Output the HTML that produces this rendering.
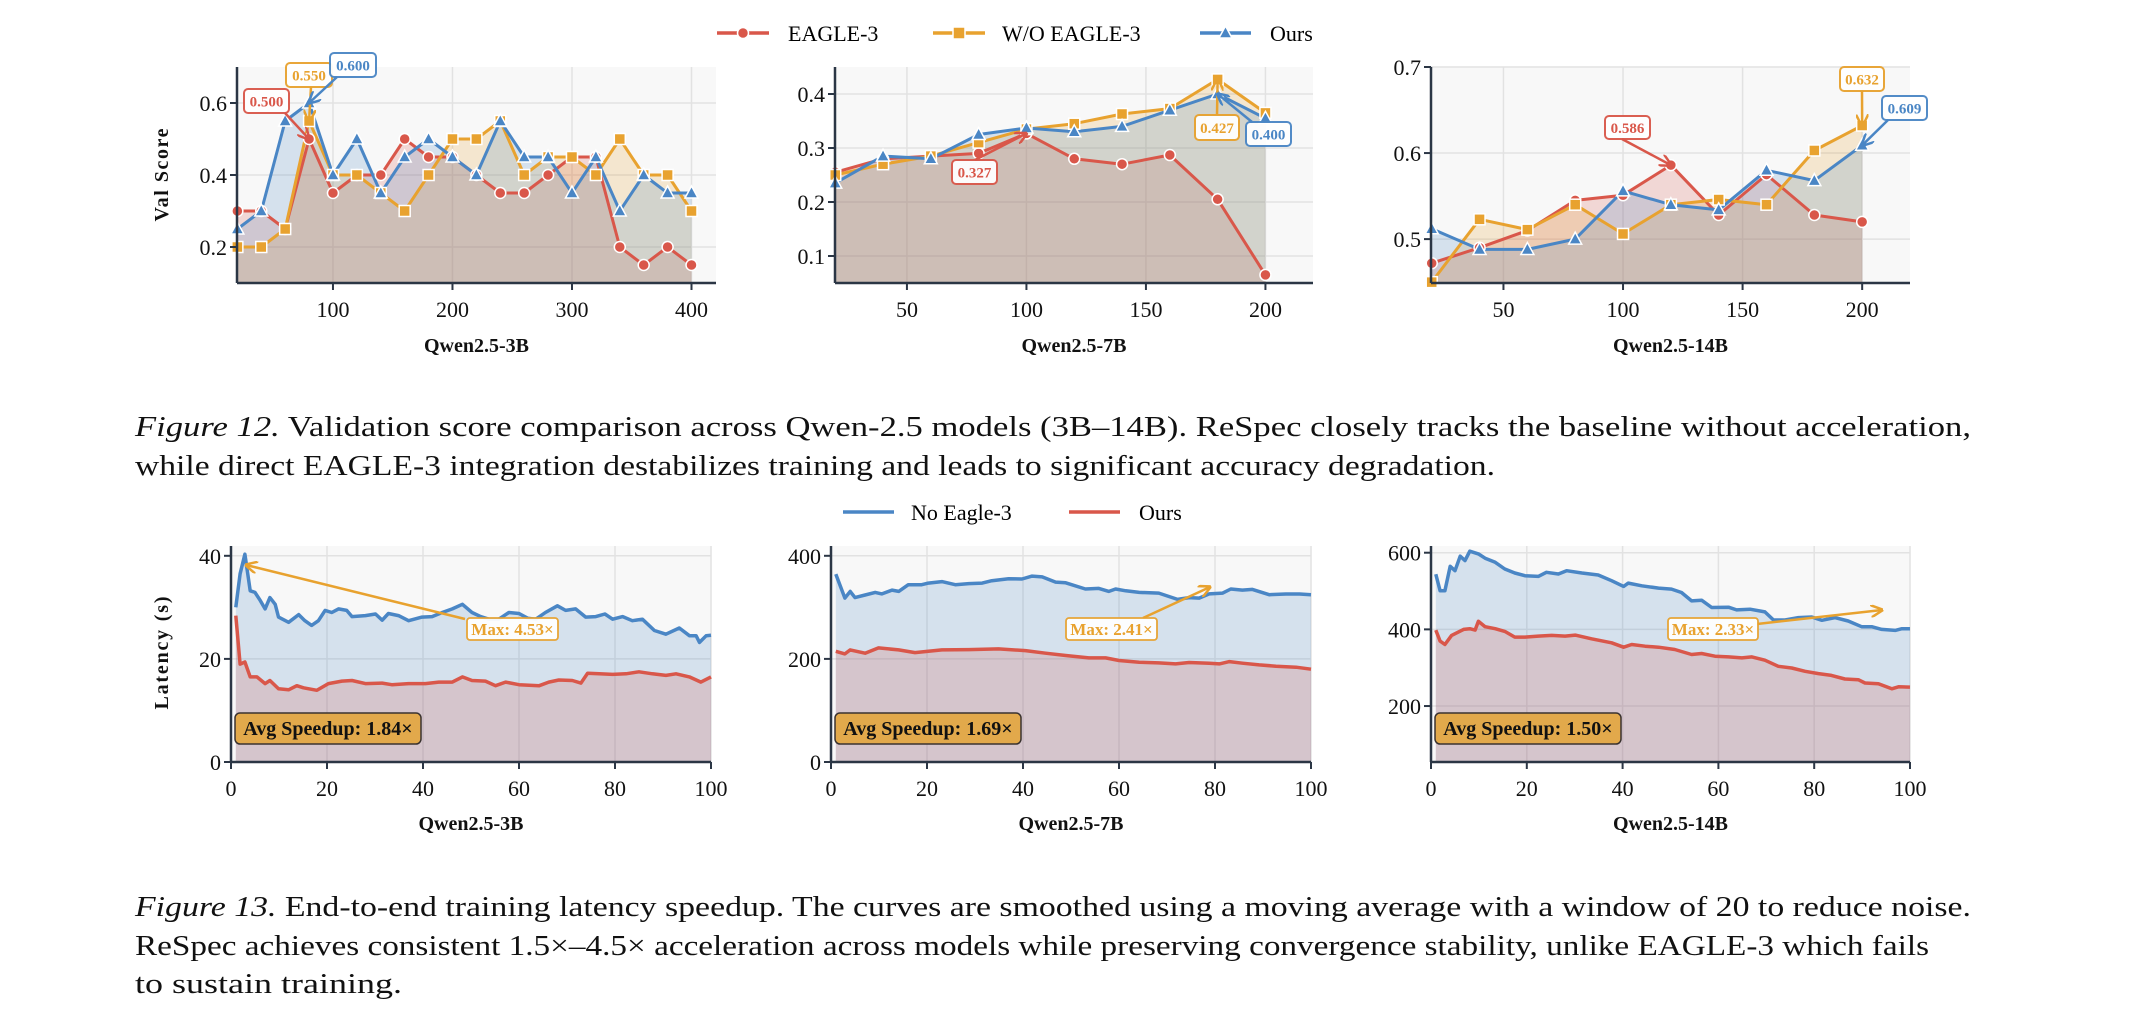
<!DOCTYPE html>
<html><head><meta charset="utf-8"><style>
html,body{margin:0;padding:0;background:#fff;}
svg{display:block;font-family:"Liberation Serif",serif;}
</style></head><body>
<svg id="fig" width="2152" height="1026" viewBox="0 0 2152 1026" xmlns="http://www.w3.org/2000/svg">
<defs>
<marker id="ahR" viewBox="0 0 10 10" refX="9" refY="5" markerWidth="5" markerHeight="5" orient="auto"><path d="M0,0L10,5L0,10" fill="none" stroke="#d9574a" stroke-width="2"/></marker>
<marker id="ahO" viewBox="0 0 10 10" refX="9" refY="5" markerWidth="5" markerHeight="5" orient="auto"><path d="M0,0L10,5L0,10" fill="none" stroke="#e8a22f" stroke-width="2"/></marker>
<marker id="ahB" viewBox="0 0 10 10" refX="9" refY="5" markerWidth="5" markerHeight="5" orient="auto"><path d="M0,0L10,5L0,10" fill="none" stroke="#4a86c5" stroke-width="2"/></marker>
</defs>
<g id="layer"></g>
<g font-size="22">
<line x1="717" y1="33" x2="769" y2="33" stroke="#d9574a" stroke-width="3.5"/><circle cx="743" cy="33" r="5.5" fill="#d9574a" stroke="#fff" stroke-width="1.5"/>
<text x="788" y="41">EAGLE-3</text>
<line x1="933" y1="33" x2="985" y2="33" stroke="#e8a22f" stroke-width="3.5"/><rect x="953" y="27" width="12" height="12" fill="#e8a22f" stroke="#fff" stroke-width="1.5"/>
<text x="1002" y="41">W/O EAGLE-3</text>
<line x1="1200" y1="33" x2="1251" y2="33" stroke="#4a86c5" stroke-width="3.5"/><path d="M1225.5,26L1232,38L1219,38Z" fill="#4a86c5" stroke="#fff" stroke-width="1.5"/>
<text x="1270" y="41">Ours</text>
</g>
<g font-size="22">
<line x1="843" y1="512" x2="894" y2="512" stroke="#4a86c5" stroke-width="3.5"/>
<text x="911" y="520">No Eagle-3</text>
<line x1="1069" y1="512" x2="1120" y2="512" stroke="#d9574a" stroke-width="3.5"/>
<text x="1139" y="520">Ours</text>
</g>
<g font-size="29" fill="#111">
<text x="135" y="436" textLength="1836" lengthAdjust="spacingAndGlyphs"><tspan font-style="italic">Figure 12.</tspan> Validation score comparison across Qwen-2.5 models (3B–14B). ReSpec closely tracks the baseline without acceleration,</text>
<text x="135" y="475" textLength="1360" lengthAdjust="spacingAndGlyphs">while direct EAGLE-3 integration destabilizes training and leads to significant accuracy degradation.</text>
</g>
<g font-size="29" fill="#111">
<text x="135" y="916" textLength="1836" lengthAdjust="spacingAndGlyphs"><tspan font-style="italic">Figure 13.</tspan> End-to-end training latency speedup. The curves are smoothed using a moving average with a window of 20 to reduce noise.</text>
<text x="135" y="955" textLength="1794" lengthAdjust="spacingAndGlyphs">ReSpec achieves consistent 1.5×–4.5× acceleration across models while preserving convergence stability, unlike EAGLE-3 which fails</text>
<text x="135" y="993" textLength="267" lengthAdjust="spacingAndGlyphs">to sustain training.</text>
</g>
</svg>
<script>
// ---- Validation score data ----
const steps3B=[20,40,60,80,100,120,140,160,180,200,220,240,260,280,300,320,340,360,380,400];
const eagle3B=[0.30,0.30,0.25,0.50,0.35,0.40,0.40,0.50,0.45,0.45,0.40,0.35,0.35,0.40,0.45,0.45,0.20,0.15,0.20,0.15];
const wo3B=[0.20,0.20,0.25,0.55,0.40,0.40,0.35,0.30,0.40,0.50,0.50,0.55,0.40,0.45,0.45,0.40,0.50,0.40,0.40,0.30];
const ours3B=[0.25,0.30,0.55,0.60,0.40,0.50,0.35,0.45,0.50,0.45,0.40,0.55,0.45,0.45,0.35,0.45,0.30,0.40,0.35,0.35];
const steps7B=[20,40,60,80,100,120,140,160,180,200];
const eagle7B=[0.255,0.28,0.285,0.29,0.327,0.28,0.27,0.287,0.205,0.065];
const wo7B=[0.25,0.27,0.285,0.31,0.335,0.345,0.363,0.373,0.427,0.365];
const ours7B=[0.235,0.285,0.28,0.325,0.337,0.33,0.34,0.37,0.40,0.355];
const steps14B=[20,40,60,80,100,120,140,160,180,200];
const eagle14B=[0.472,0.49,0.51,0.545,0.551,0.586,0.528,0.575,0.528,0.52];
const wo14B=[0.45,0.523,0.511,0.54,0.506,0.54,0.546,0.54,0.603,0.632];
const ours14B=[0.512,0.488,0.488,0.50,0.556,0.54,0.534,0.58,0.568,0.609];
const xTicks3B=[100,200,300,400], yTicks3B=[0.2,0.4,0.6];
const xTicks7B=[50,100,150,200], yTicks7B=[0.1,0.2,0.3,0.4];
const xTicks14B=[50,100,150,200], yTicks14B=[0.5,0.6,0.7];
// ---- Latency data ----
const noX3B=[1,1.9,2.9,4,5,6.1,7.1,8.1,9.2,9.9,12,14.1,15.4,16.8,18.2,19.6,21,22.4,24.1,25.2,28,30.1,31.5,32.8,34.9,37,39.8,41.9,44,46.1,48.2,50.2,52,53.7,55.8,57.9,60,61.8,63.5,65.5,68,69.7,71.8,73.9,76,77.9,79.5,81.6,83.6,85.7,88.2,90.6,93.4,95.5,96.9,97.6,99,100];
const noY3B=[30,36.5,40.3,33.2,32.9,31.3,29.7,31.9,30.6,28.1,27.1,28.6,27.4,26.5,27.4,29.4,29,29.7,29.4,28.2,28.4,28.7,27.5,28.8,28.4,27.4,28.1,28.2,29,29.7,30.6,29,28.2,27.7,27.7,29,28.8,27.9,27.7,29,30.3,29.4,29.7,28.1,28.2,28.7,27.7,28.2,27.4,27.7,25.5,24.8,26,24.5,24.5,23.2,24.5,24.6];
const oursX3B=[1,1.9,2.9,4,5.4,7.1,8.1,9.9,12,13.7,15.1,17.9,20.3,23.1,25.2,28,31.5,33.5,37,40.5,43.3,46.1,48.2,50.2,53,55.1,57.2,60,64.2,66.2,68.3,71.1,72.9,74.3,76.7,79.5,82.3,85,87.8,90.6,92.7,95.5,97.9,100];
const oursY3B=[28.4,19,19.4,16.5,16.5,15.2,15.8,14.2,14,14.8,14.4,13.9,15.2,15.7,15.8,15.2,15.3,15,15.2,15.2,15.5,15.5,16.5,15.8,15.7,14.8,15.5,15,14.8,15.5,15.9,15.8,15.3,17.2,17.1,17,17.1,17.5,17.1,16.8,17.1,16.5,15.5,16.5];
const noX7B=[1,2.9,4,5,7.1,9.2,10.6,12.7,14.1,16.1,18.9,20.3,23.1,25.9,28.7,31.5,33.5,37,39.8,41.9,44,46.8,48.9,53,55.8,57.9,59.3,61.4,64.2,68.3,72.2,74.6,76.7,78.8,81.6,83.3,85.7,87.8,91.3,94.8,97.6,100];
const noY7B=[364.5,318,331,319,324,329,326,333.5,331,344,344,347,350,344,346,347,351.6,355.5,355,360.6,359,349,347.7,335.5,336.8,331,335.5,332,329,327.7,315.5,319,318,326,327.7,335.5,333.5,334.8,324.5,325.8,325.8,324.5];
const oursX7B=[1,2.9,4,7.1,9.9,14.1,17.5,23.1,28.7,34.9,40.5,44.7,48.9,53.7,57.2,60,64.2,68.3,71.8,74.6,78.8,80.9,83,85.7,89.2,92.7,96.9,100];
const oursY7B=[214.8,209.7,217.4,211,221.3,217.4,212.3,217.4,218,219.4,216,211,206.5,202,202,196.8,193.5,192.3,190.3,193,191.6,190.3,194.8,191.6,188.4,185.8,183.9,180];
const noX14B=[1,1.9,2.9,4,5,6.1,7.1,8.1,9.9,11.3,13.4,15.4,17.5,19.6,22.4,24.1,26.6,28.3,31.5,34.9,37.7,40.2,41.2,44,47.5,50.2,52.3,54.4,56.5,58.6,62.1,63.8,66.6,69.7,71.5,73.9,76.7,79.5,81.6,84.3,87.1,89.9,92,94.1,96.9,98.3,100];
const noY14B=[544,500.7,500.7,564.5,553,590.8,579.3,604,597,585.6,575,557.5,547,540,538.3,548.8,544.4,553,547,541.8,527,512,520.8,513.8,507.7,505,496.3,474.4,476,457,457.8,450.8,452.5,445.5,424.5,424.5,430.6,432.4,423.6,430.6,421.9,407,407,400,397.4,401.8,401.8];
const oursX14B=[1,1.9,2.9,4.3,5.7,6.8,8.1,9.2,9.9,11.3,13.4,15.4,17.5,19.6,22.4,25.2,28,30.1,33.5,37.7,40.2,41.9,44.7,47.5,50.9,54.4,56.5,59.3,62.1,64.9,67,69.7,72.5,75.3,78.1,80.9,83.6,86.4,89.2,90.6,93.4,96.2,97.6,100];
const oursY14B=[398,369.4,360.6,384.2,393,400,401.8,398.2,421,407,401.8,394.7,379.9,379.9,382.5,384.2,382.5,385,375.5,365,353.6,360.6,356.2,353.6,347.5,334.4,337,330,328.2,325.6,328.2,319.5,303.7,299.3,290.6,284.5,280,270.5,268.7,260,258.2,245,250.3,249.5];
const latXTicks=[0,20,40,60,80,100];
const latYTicks3B=[0,20,40], latYTicks7B=[0,200,400], latYTicks14B=[200,400,600];

const NS='http://www.w3.org/2000/svg';
const layer=document.getElementById('layer');
const RED='#d9574a', ORG='#e8a22f', BLU='#4a86c5', AX='#2b3645';
function mk(tag,attrs,parent){const e=document.createElementNS(NS,tag);for(const k in attrs)e.setAttribute(k,attrs[k]);(parent||layer).appendChild(e);return e;}
function scales(c){return{sx:v=>c.L+(v-c.x0)/(c.x1-c.x0)*(c.R-c.L),sy:v=>c.B-(v-c.y0)/(c.y1-c.y0)*(c.B-c.T)};}
function frame(c,g,xt,yt){
  const {sx,sy}=scales(c);
  mk('rect',{x:c.L,y:c.T,width:c.R-c.L,height:c.B-c.T,fill:'#f8f8f8'},g);
  xt.forEach(v=>{mk('line',{x1:sx(v),x2:sx(v),y1:c.T,y2:c.B,stroke:'#e2e2e2','stroke-width':1.5},g);});
  yt.forEach(v=>{if(sy(v)>c.T-1&&sy(v)<c.B-1)mk('line',{x1:c.L,x2:c.R,y1:sy(v),y2:sy(v),stroke:'#e2e2e2','stroke-width':1.5},g);});
}
function axes(c,g,xt,yt,xlabel,fmt){
  const {sx,sy}=scales(c);
  mk('line',{x1:c.L,x2:c.L,y1:c.T,y2:c.B,stroke:AX,'stroke-width':2.5},g);
  mk('line',{x1:c.L,x2:c.R,y1:c.B,y2:c.B,stroke:AX,'stroke-width':2.5},g);
  xt.forEach(v=>{
    mk('line',{x1:sx(v),x2:sx(v),y1:c.B,y2:c.B+7,stroke:AX,'stroke-width':2},g);
    const t=mk('text',{x:sx(v),y:c.B+34,'text-anchor':'middle','font-size':22,fill:'#111'},g);
    
    
    t.textContent=String(v);
  });
  yt.forEach(v=>{
    mk('line',{x1:c.L-7,x2:c.L,y1:sy(v),y2:sy(v),stroke:AX,'stroke-width':2},g);
    const t=mk('text',{x:c.L-10,y:sy(v)+8,'text-anchor':'end','font-size':22,fill:'#111'},g);
    
    
    t.textContent=fmt(v);
  });
  const xl=mk('text',{x:(c.L+c.R)/2,y:c.xlY,'text-anchor':'middle','font-size':20,'font-weight':'bold',fill:'#111'},g);
  
  
  xl.textContent=xlabel;
}
function pathD(xs,ys,sx,sy){return xs.map((x,i)=>(i?'L':'M')+sx(x).toFixed(1)+','+sy(ys[i]).toFixed(1)).join('');}
function areaD(xs,ys,sx,sy,base){return pathD(xs,ys,sx,sy)+'L'+sx(xs[xs.length-1]).toFixed(1)+','+base+'L'+sx(xs[0]).toFixed(1)+','+base+'Z';}
function annot(g,c,bx,by,bw,bh,ax,ay,tx,ty,txt,col,mark,name){
  const {sx,sy}=scales(c);
  mk('line',{x1:ax,y1:ay,x2:sx(tx),y2:sy(ty),stroke:col,'stroke-width':2.5,'marker-end':'url(#'+mark+')'},g);
  const grp=mk('g',{},g);
  
  
  mk('rect',{x:bx,y:by,width:bw,height:bh,rx:4,fill:'#fff',stroke:col,'stroke-width':2,opacity:0.95},grp);
  const t=mk('text',{x:bx+bw/2,y:by+bh/2+5.5,'text-anchor':'middle','font-size':15,'font-weight':'bold',fill:col},grp);
  t.textContent=txt;
}
function valPlot(c,xs,red,org,blu,xt,yt,xlabel,name,notes){
  const g=mk('g',{});
  
  
  const {sx,sy}=scales(c);
  frame(c,g,xt,yt);
  [[red,RED],[org,ORG],[blu,BLU]].forEach(([ys,col])=>{mk('path',{d:areaD(xs,ys,sx,sy,c.B),fill:col,'fill-opacity':0.2,stroke:'none'},g);});
  const series=[[red,RED,'eagle3-line'],[org,ORG,'wo-eagle3-line'],[blu,BLU,'ours-line']];
  series.forEach(([ys,col,nm])=>{
    const p=mk('path',{d:pathD(xs,ys,sx,sy),fill:'none',stroke:col,'stroke-width':3,'stroke-linejoin':'round'},g);
    
    
  });
  xs.forEach((x,i)=>{
    const c1=mk('circle',{cx:sx(x),cy:sy(red[i]),r:5.5,fill:RED,stroke:'#fff','stroke-width':1.5},g);
    
    
  });
  xs.forEach((x,i)=>{
    const s=mk('rect',{x:sx(x)-5.5,y:sy(org[i])-5.5,width:11,height:11,fill:ORG,stroke:'#fff','stroke-width':1.5},g);
    
    
  });
  xs.forEach((x,i)=>{
    const X=sx(x),Y=sy(blu[i]);
    const t=mk('path',{d:`M${X},${Y-7}L${X+6.5},${Y+5}L${X-6.5},${Y+5}Z`,fill:BLU,stroke:'#fff','stroke-width':1.5},g);
    
    
  });
  axes(c,g,xt,yt,xlabel,v=>v.toFixed(1));
  notes.forEach(n=>annot(g,c,...n));
}
function latPlot(c,nx,ny,ox,oy,xt,yt,xlabel,name,avg,maxTxt,mb,arrow){
  const g=mk('g',{});
  
  
  const {sx,sy}=scales(c);
  frame(c,g,xt,yt);
  mk('path',{d:areaD(nx,ny,sx,sy,c.B),fill:BLU,'fill-opacity':0.2},g);
  mk('path',{d:areaD(ox,oy,sx,sy,c.B),fill:RED,'fill-opacity':0.2},g);
  const p1=mk('path',{d:pathD(nx,ny,sx,sy),fill:'none',stroke:BLU,'stroke-width':3.5,'stroke-linejoin':'round'},g);
  
  
  const p2=mk('path',{d:pathD(ox,oy,sx,sy),fill:'none',stroke:RED,'stroke-width':3.5,'stroke-linejoin':'round'},g);
  
  
  axes(c,g,xt,yt,xlabel,v=>String(v));
  mk('line',{x1:arrow[0],y1:arrow[1],x2:arrow[2],y2:arrow[3],stroke:ORG,'stroke-width':2.5,'marker-end':'url(#ahO)'},g);
  const mg=mk('g',{},g);
  
  
  mk('rect',{x:mb[0],y:mb[1],width:mb[2],height:22,rx:3,fill:'#fff',stroke:ORG,'stroke-width':1.8,opacity:0.95},mg);
  const mt=mk('text',{x:mb[0]+mb[2]/2,y:mb[1]+17,'text-anchor':'middle','font-size':17,'font-weight':'bold',fill:ORG},mg);
  mt.textContent=maxTxt;
  const ag=mk('g',{},g);
  
  
  mk('rect',{x:c.L+4,y:713,width:186,height:31,rx:5,fill:'#e2a94b',stroke:'#3a3330','stroke-width':1.5},ag);
  const at=mk('text',{x:c.L+97,y:735,'text-anchor':'middle','font-size':20,'font-weight':'bold',fill:'#111'},ag);
  at.textContent=avg;
}
const c1={L:237,R:716,T:67,B:283,x0:19.7,x1:420.5,y0:0.1,y1:0.7,xlY:352};
const c2={L:835,R:1313,T:67,B:283,x0:19.9,x1:219.9,y0:0.05,y1:0.45,xlY:352};
const c3={L:1431,R:1910,T:67,B:283,x0:19.7,x1:220,y0:0.449,y1:0.70,xlY:352};
valPlot(c1,steps3B,eagle3B,wo3B,ours3B,xTicks3B,yTicks3B,'Qwen2.5-3B','val-plot-3b',[
 [244,89,45,24,285,113,80,0.5,'0.500',RED,'ahR','annotation-eagle3-3b'],
 [286,63,46,24,311,87,80,0.55,'0.550',ORG,'ahO','annotation-wo-3b'],
 [330,53,46,24,337,77,80,0.6,'0.600',BLU,'ahB','annotation-ours-3b']]);
valPlot(c2,steps7B,eagle7B,wo7B,ours7B,xTicks7B,yTicks7B,'Qwen2.5-7B','val-plot-7b',[
 [952,160,45,24,975,160,100,0.327,'0.327',RED,'ahR','annotation-eagle3-7b'],
 [1195,115,44,25,1217,115,180,0.427,'0.427',ORG,'ahO','annotation-wo-7b'],
 [1246,122,45,24,1252,122,180,0.40,'0.400',BLU,'ahB','annotation-ours-7b']]);
valPlot(c3,steps14B,eagle14B,wo14B,ours14B,xTicks14B,yTicks14B,'Qwen2.5-14B','val-plot-14b',[
 [1605,116,45,23,1622,139,120,0.586,'0.586',RED,'ahR','annotation-eagle3-14b'],
 [1840,67,44,24,1862,91,200,0.632,'0.632',ORG,'ahO','annotation-wo-14b'],
 [1882,96,45,24,1888,120,200,0.609,'0.609',BLU,'ahB','annotation-ours-14b']]);
const d1={L:231,R:711,T:546,B:762,x0:0,x1:100,y0:0,y1:41.9,xlY:830};
const d2={L:831,R:1311,T:546,B:762,x0:0,x1:100,y0:0,y1:419,xlY:830};
const d3={L:1431,R:1910,T:546,B:762,x0:0,x1:100,y0:54,y1:617.5,xlY:830};
latPlot(d1,noX3B,noY3B,oursX3B,oursY3B,latXTicks,latYTicks3B,'Qwen2.5-3B','latency-plot-3b','Avg Speedup: 1.84×','Max: 4.53×',[467,618,91],[465,619,246,565]);
latPlot(d2,noX7B,noY7B,oursX7B,oursY7B,latXTicks,latYTicks7B,'Qwen2.5-7B','latency-plot-7b','Avg Speedup: 1.69×','Max: 2.41×',[1066,618,91],[1143,618,1210,587]);
latPlot(d3,noX14B,noY14B,oursX14B,oursY14B,latXTicks,latYTicks14B,'Qwen2.5-14B','latency-plot-14b','Avg Speedup: 1.50×','Max: 2.33×',[1668,618,90],[1757,624,1882,610]);
const yl1=mk('text',{x:0,y:0,transform:'translate(168,175) rotate(-90)','text-anchor':'middle','font-size':20,'font-weight':'bold',fill:'#111',textLength:93});


yl1.textContent='Val Score';
const yl2=mk('text',{x:0,y:0,transform:'translate(168,653) rotate(-90)','text-anchor':'middle','font-size':20,'font-weight':'bold',fill:'#111',textLength:113});


yl2.textContent='Latency (s)';
</script>
</body></html>
